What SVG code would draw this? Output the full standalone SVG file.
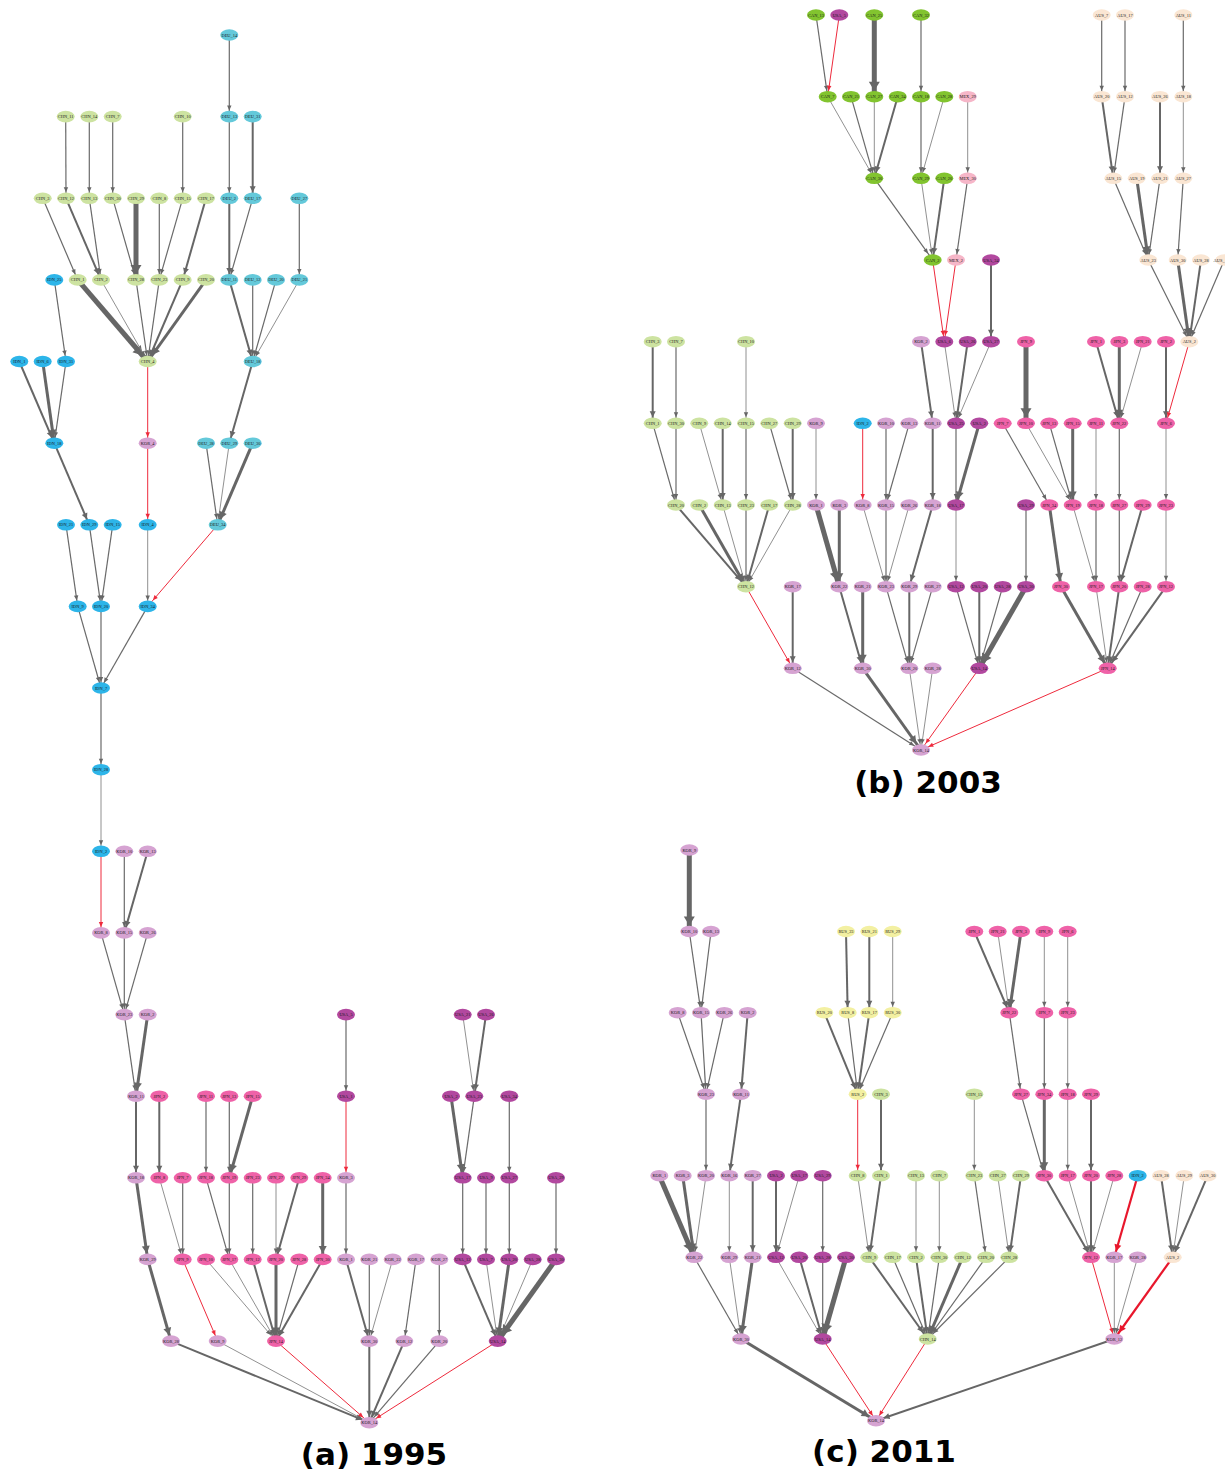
<svg xmlns="http://www.w3.org/2000/svg" width="1225" height="1471" viewBox="0 0 1225 1471">
<style>
.e line{fill:none}
.t{stroke:#858585;stroke-width:0.9;marker-end:url(#g1)}
.n{stroke:#6a6a6a;stroke-width:1.2;marker-end:url(#g1)}
.m{stroke:#666;stroke-width:2;marker-end:url(#g2)}
.k{stroke:#666;stroke-width:3;marker-end:url(#g3)}
.v{stroke:#666;stroke-width:5;marker-end:url(#g4)}
.r{stroke:#ee2a3c;stroke-width:1;marker-end:url(#r1)}
.rk{stroke:#e8172c;stroke-width:2.2;marker-end:url(#r2)}
.d.t,.d.n{marker-end:url(#g1d)}
.d.m{marker-end:url(#g2d)}
.d.k{marker-end:url(#g3d)}
.d.v{marker-end:url(#g4d)}
.d.r{marker-end:url(#r1d)}
.d.rk{marker-end:url(#r2d)}
.nd text{font-family:"Liberation Serif","Times New Roman",serif;font-size:4.4px;text-anchor:middle;dominant-baseline:central;fill:#1a1a1a}
.nd text.edge{text-anchor:end}
.chn ellipse{fill:#cde3a1}
.deu ellipse{fill:#64c9da}
.idn ellipse{fill:#2db5e9}
.kor ellipse{fill:#d6a3d2}
.jpn ellipse{fill:#ef62a8}
.usa ellipse{fill:#b2489f}
.can ellipse{fill:#82c42f}
.mex ellipse{fill:#f6b6c8}
.aus ellipse{fill:#fae6d3}
.rus ellipse{fill:#f3f0a2}
.cap{font-family:"DejaVu Sans",sans-serif;font-weight:bold;font-size:31px;text-anchor:middle;fill:#000}
</style>
<defs>
<marker id="g1" markerUnits="userSpaceOnUse" viewBox="-12 -8 24 16" markerWidth="24" markerHeight="16" refX="6" refY="0" orient="auto"><path d="M-5,-2.2L0,0L-5,2.2z" fill="#666"/></marker>
<marker id="g2" markerUnits="userSpaceOnUse" viewBox="-12 -8 24 16" markerWidth="24" markerHeight="16" refX="6" refY="0" orient="auto"><path d="M-6,-3L0,0L-6,3z" fill="#666"/></marker>
<marker id="g3" markerUnits="userSpaceOnUse" viewBox="-12 -8 24 16" markerWidth="24" markerHeight="16" refX="6" refY="0" orient="auto"><path d="M-7.5,-4L0,0L-7.5,4z" fill="#666"/></marker>
<marker id="g4" markerUnits="userSpaceOnUse" viewBox="-12 -8 24 16" markerWidth="24" markerHeight="16" refX="6" refY="0" orient="auto"><path d="M-9,-5.5L0,0L-9,5.5z" fill="#666"/></marker>
<marker id="r1" markerUnits="userSpaceOnUse" viewBox="-12 -8 24 16" markerWidth="24" markerHeight="16" refX="6" refY="0" orient="auto"><path d="M-5,-2.2L0,0L-5,2.2z" fill="#ee2a3c"/></marker>
<marker id="r2" markerUnits="userSpaceOnUse" viewBox="-12 -8 24 16" markerWidth="24" markerHeight="16" refX="6" refY="0" orient="auto"><path d="M-7,-3.5L0,0L-7,3.5z" fill="#e8172c"/></marker>
<marker id="g1d" markerUnits="userSpaceOnUse" viewBox="-12 -8 24 16" markerWidth="24" markerHeight="16" refX="8" refY="0" orient="auto"><path d="M-5,-2.2L0,0L-5,2.2z" fill="#666"/></marker>
<marker id="g2d" markerUnits="userSpaceOnUse" viewBox="-12 -8 24 16" markerWidth="24" markerHeight="16" refX="8" refY="0" orient="auto"><path d="M-6,-3L0,0L-6,3z" fill="#666"/></marker>
<marker id="g3d" markerUnits="userSpaceOnUse" viewBox="-12 -8 24 16" markerWidth="24" markerHeight="16" refX="8" refY="0" orient="auto"><path d="M-7.5,-4L0,0L-7.5,4z" fill="#666"/></marker>
<marker id="g4d" markerUnits="userSpaceOnUse" viewBox="-12 -8 24 16" markerWidth="24" markerHeight="16" refX="8" refY="0" orient="auto"><path d="M-9,-5.5L0,0L-9,5.5z" fill="#666"/></marker>
<marker id="r1d" markerUnits="userSpaceOnUse" viewBox="-12 -8 24 16" markerWidth="24" markerHeight="16" refX="8" refY="0" orient="auto"><path d="M-5,-2.2L0,0L-5,2.2z" fill="#ee2a3c"/></marker>
<marker id="r2d" markerUnits="userSpaceOnUse" viewBox="-12 -8 24 16" markerWidth="24" markerHeight="16" refX="8" refY="0" orient="auto"><path d="M-7,-3.5L0,0L-7,3.5z" fill="#e8172c"/></marker>
</defs>
<rect width="1225" height="1471" fill="#fff"/>

<!-- ================= PANEL A ================= -->
<g id="a-connectors" class="e">
<line class="n" x1="229.3" y1="35" x2="229.3" y2="116.6"/>
<line class="n" x1="65.7" y1="116.6" x2="66" y2="198.3"/>
<line class="n" x1="89.3" y1="116.6" x2="89.3" y2="198.3"/>
<line class="n" x1="112.7" y1="116.6" x2="112.7" y2="198.3"/>
<line class="n" x1="182.7" y1="116.6" x2="182.7" y2="198.3"/>
<line class="n" x1="229.3" y1="116.6" x2="229.3" y2="198.3"/>
<line class="m" x1="252.7" y1="116.6" x2="252.7" y2="198.3"/>
<line class="n" x1="42.7" y1="198.3" x2="77.7" y2="279.9"/>
<line class="m" x1="66" y1="198.3" x2="101" y2="279.9"/>
<line class="n" x1="89.3" y1="198.3" x2="101" y2="279.9"/>
<line class="n" x1="112.7" y1="198.3" x2="136" y2="279.9"/>
<line class="v" x1="136" y1="198.3" x2="136" y2="279.9"/>
<line class="n" x1="159.3" y1="198.3" x2="159.3" y2="279.9"/>
<line class="n" x1="182.7" y1="198.3" x2="159.3" y2="279.9"/>
<line class="m" x1="206" y1="198.3" x2="182.7" y2="279.9"/>
<line class="m" x1="229.3" y1="198.3" x2="229.3" y2="279.9"/>
<line class="n" x1="252.7" y1="198.3" x2="229.3" y2="279.9"/>
<line class="n" x1="299.3" y1="198.3" x2="299.3" y2="279.9"/>
<line class="n" x1="54.3" y1="279.9" x2="66" y2="361.5"/>
<line class="v d" x1="77.7" y1="279.9" x2="147.7" y2="361.5"/>
<line class="t" x1="101" y1="279.9" x2="147.7" y2="361.5"/>
<line class="n" x1="136" y1="279.9" x2="147.7" y2="361.5"/>
<line class="n" x1="159.3" y1="279.9" x2="147.7" y2="361.5"/>
<line class="m" x1="182.7" y1="279.9" x2="147.7" y2="361.5"/>
<line class="k d" x1="206" y1="279.9" x2="147.7" y2="361.5"/>
<line class="m" x1="229.3" y1="279.9" x2="252.7" y2="361.5"/>
<line class="n" x1="252.7" y1="279.9" x2="252.7" y2="361.5"/>
<line class="n" x1="276" y1="279.9" x2="252.7" y2="361.5"/>
<line class="t" x1="299.3" y1="279.9" x2="252.7" y2="361.5"/>
<line class="m" x1="19.3" y1="361.5" x2="54.3" y2="443.2"/>
<line class="k" x1="42.7" y1="361.5" x2="54.3" y2="443.2"/>
<line class="n" x1="66" y1="361.5" x2="54.3" y2="443.2"/>
<line class="r" x1="147.7" y1="361.5" x2="147.7" y2="443.2"/>
<line class="m" x1="252.7" y1="361.5" x2="229.3" y2="443.2"/>
<line class="m" x1="54.3" y1="443.2" x2="89.3" y2="524.8"/>
<line class="r" x1="147.7" y1="443.2" x2="147.7" y2="524.8"/>
<line class="n" x1="206" y1="443.2" x2="217.7" y2="524.8"/>
<line class="t" x1="229.3" y1="443.2" x2="217.7" y2="524.8"/>
<line class="k" x1="252.7" y1="443.2" x2="217.7" y2="524.8"/>
<line class="n" x1="66" y1="524.8" x2="77.7" y2="606.4"/>
<line class="n" x1="89.3" y1="524.8" x2="101" y2="606.4"/>
<line class="n" x1="112.7" y1="524.8" x2="101" y2="606.4"/>
<line class="t" x1="147.7" y1="524.8" x2="147.7" y2="606.4"/>
<line class="r d" x1="217.7" y1="524.8" x2="147.7" y2="606.4"/>
<line class="n" x1="77.7" y1="606.4" x2="101" y2="688"/>
<line class="n" x1="101" y1="606.4" x2="101" y2="688"/>
<line class="n" x1="147.7" y1="606.4" x2="101" y2="688"/>
<line class="n" x1="101" y1="688" x2="101" y2="769.7"/>
<line class="t" x1="101" y1="769.7" x2="101" y2="851.3"/>
<line class="r" x1="101" y1="851.3" x2="101" y2="932.9"/>
<line class="n" x1="124.3" y1="851.3" x2="124.3" y2="932.9"/>
<line class="m" x1="147.7" y1="851.3" x2="124.3" y2="932.9"/>
<line class="n" x1="101" y1="932.9" x2="124.3" y2="1014.6"/>
<line class="n" x1="124.3" y1="932.9" x2="124.3" y2="1014.6"/>
<line class="n" x1="147.7" y1="932.9" x2="124.3" y2="1014.6"/>
<line class="n" x1="124.3" y1="1014.6" x2="136" y2="1096.2"/>
<line class="k" x1="147.7" y1="1014.6" x2="136" y2="1096.2"/>
<line class="n" x1="346" y1="1014.6" x2="346" y2="1096.2"/>
<line class="t" x1="462.7" y1="1014.6" x2="474.3" y2="1096.2"/>
<line class="m" x1="486" y1="1014.6" x2="474.3" y2="1096.2"/>
<line class="m" x1="136" y1="1096.2" x2="136" y2="1177.8"/>
<line class="m" x1="159.3" y1="1096.2" x2="159.3" y2="1177.8"/>
<line class="n" x1="206" y1="1096.2" x2="206" y2="1177.8"/>
<line class="n" x1="229.3" y1="1096.2" x2="229.3" y2="1177.8"/>
<line class="k" x1="252.7" y1="1096.2" x2="229.3" y2="1177.8"/>
<line class="r" x1="346" y1="1096.2" x2="346" y2="1177.8"/>
<line class="k" x1="451" y1="1096.2" x2="462.7" y2="1177.8"/>
<line class="n" x1="474.3" y1="1096.2" x2="462.7" y2="1177.8"/>
<line class="n" x1="509.3" y1="1096.2" x2="509.3" y2="1177.8"/>
<line class="k" x1="136" y1="1177.8" x2="147.7" y2="1259.4"/>
<line class="t" x1="159.3" y1="1177.8" x2="182.7" y2="1259.4"/>
<line class="n" x1="182.7" y1="1177.8" x2="182.7" y2="1259.4"/>
<line class="n" x1="206" y1="1177.8" x2="229.3" y2="1259.4"/>
<line class="n" x1="229.3" y1="1177.8" x2="229.3" y2="1259.4"/>
<line class="n" x1="252.7" y1="1177.8" x2="252.7" y2="1259.4"/>
<line class="t" x1="276" y1="1177.8" x2="276" y2="1259.4"/>
<line class="m" x1="299.3" y1="1177.8" x2="276" y2="1259.4"/>
<line class="k" x1="322.7" y1="1177.8" x2="322.7" y2="1259.4"/>
<line class="n" x1="346" y1="1177.8" x2="346" y2="1259.4"/>
<line class="n" x1="462.7" y1="1177.8" x2="462.7" y2="1259.4"/>
<line class="n" x1="486" y1="1177.8" x2="486" y2="1259.4"/>
<line class="n" x1="509.3" y1="1177.8" x2="509.3" y2="1259.4"/>
<line class="n" x1="556" y1="1177.8" x2="556" y2="1259.4"/>
<line class="k" x1="147.7" y1="1259.4" x2="171" y2="1341.1"/>
<line class="r" x1="182.7" y1="1259.4" x2="217.7" y2="1341.1"/>
<line class="t d" x1="206" y1="1259.4" x2="276" y2="1341.1"/>
<line class="t" x1="229.3" y1="1259.4" x2="276" y2="1341.1"/>
<line class="m" x1="252.7" y1="1259.4" x2="276" y2="1341.1"/>
<line class="k" x1="276" y1="1259.4" x2="276" y2="1341.1"/>
<line class="n" x1="299.3" y1="1259.4" x2="276" y2="1341.1"/>
<line class="m" x1="322.7" y1="1259.4" x2="276" y2="1341.1"/>
<line class="m" x1="346" y1="1259.4" x2="369.3" y2="1341.1"/>
<line class="n" x1="369.3" y1="1259.4" x2="369.3" y2="1341.1"/>
<line class="t" x1="392.7" y1="1259.4" x2="369.3" y2="1341.1"/>
<line class="n" x1="416" y1="1259.4" x2="404.3" y2="1341.1"/>
<line class="n" x1="439.3" y1="1259.4" x2="439.3" y2="1341.1"/>
<line class="m" x1="462.7" y1="1259.4" x2="497.7" y2="1341.1"/>
<line class="t" x1="486" y1="1259.4" x2="497.7" y2="1341.1"/>
<line class="k" x1="509.3" y1="1259.4" x2="497.7" y2="1341.1"/>
<line class="t" x1="532.7" y1="1259.4" x2="497.7" y2="1341.1"/>
<line class="v d" x1="556" y1="1259.4" x2="497.7" y2="1341.1"/>
<line class="m d" x1="171" y1="1341.1" x2="369.3" y2="1422.7"/>
<line class="t d" x1="217.7" y1="1341.1" x2="369.3" y2="1422.7"/>
<line class="r d" x1="276" y1="1341.1" x2="369.3" y2="1422.7"/>
<line class="m" x1="369.3" y1="1341.1" x2="369.3" y2="1422.7"/>
<line class="m" x1="404.3" y1="1341.1" x2="369.3" y2="1422.7"/>
<line class="n d" x1="439.3" y1="1341.1" x2="369.3" y2="1422.7"/>
<line class="r d" x1="497.7" y1="1341.1" x2="369.3" y2="1422.7"/>
</g>
<g id="a-nodes" class="nd">
<g id="a-DEU_14" class="deu"><ellipse cx="229.3" cy="35" rx="9" ry="5.8"/><text x="229.3" y="35">DEU_14</text></g>
<g id="a-CHN_11" class="chn"><ellipse cx="65.7" cy="116.6" rx="9" ry="5.8"/><text x="65.7" y="116.6">CHN_11</text></g>
<g id="a-CHN_14" class="chn"><ellipse cx="89.3" cy="116.6" rx="9" ry="5.8"/><text x="89.3" y="116.6">CHN_14</text></g>
<g id="a-CHN_7" class="chn"><ellipse cx="112.7" cy="116.6" rx="9" ry="5.8"/><text x="112.7" y="116.6">CHN_7</text></g>
<g id="a-CHN_10" class="chn"><ellipse cx="182.7" cy="116.6" rx="9" ry="5.8"/><text x="182.7" y="116.6">CHN_10</text></g>
<g id="a-DEU_13" class="deu"><ellipse cx="229.3" cy="116.6" rx="9" ry="5.8"/><text x="229.3" y="116.6">DEU_13</text></g>
<g id="a-DEU_31" class="deu"><ellipse cx="252.7" cy="116.6" rx="9" ry="5.8"/><text x="252.7" y="116.6">DEU_31</text></g>
<g id="a-CHN_3" class="chn"><ellipse cx="42.7" cy="198.3" rx="9" ry="5.8"/><text x="42.7" y="198.3">CHN_3</text></g>
<g id="a-CHN_12" class="chn"><ellipse cx="66" cy="198.3" rx="9" ry="5.8"/><text x="66" y="198.3">CHN_12</text></g>
<g id="a-CHN_13" class="chn"><ellipse cx="89.3" cy="198.3" rx="9" ry="5.8"/><text x="89.3" y="198.3">CHN_13</text></g>
<g id="a-CHN_30" class="chn"><ellipse cx="112.7" cy="198.3" rx="9" ry="5.8"/><text x="112.7" y="198.3">CHN_30</text></g>
<g id="a-CHN_29" class="chn"><ellipse cx="136" cy="198.3" rx="9" ry="5.8"/><text x="136" y="198.3">CHN_29</text></g>
<g id="a-CHN_8" class="chn"><ellipse cx="159.3" cy="198.3" rx="9" ry="5.8"/><text x="159.3" y="198.3">CHN_8</text></g>
<g id="a-CHN_15" class="chn"><ellipse cx="182.7" cy="198.3" rx="9" ry="5.8"/><text x="182.7" y="198.3">CHN_15</text></g>
<g id="a-CHN_17" class="chn"><ellipse cx="206" cy="198.3" rx="9" ry="5.8"/><text x="206" y="198.3">CHN_17</text></g>
<g id="a-DEU_2" class="deu"><ellipse cx="229.3" cy="198.3" rx="9" ry="5.8"/><text x="229.3" y="198.3">DEU_2</text></g>
<g id="a-DEU_17" class="deu"><ellipse cx="252.7" cy="198.3" rx="9" ry="5.8"/><text x="252.7" y="198.3">DEU_17</text></g>
<g id="a-DEU_27" class="deu"><ellipse cx="299.3" cy="198.3" rx="9" ry="5.8"/><text x="299.3" y="198.3">DEU_27</text></g>
<g id="a-IDN_25" class="idn"><ellipse cx="54.3" cy="279.9" rx="9" ry="5.8"/><text x="54.3" y="279.9">IDN_25</text></g>
<g id="a-CHN_1" class="chn"><ellipse cx="77.7" cy="279.9" rx="9" ry="5.8"/><text x="77.7" y="279.9">CHN_1</text></g>
<g id="a-CHN_2" class="chn"><ellipse cx="101" cy="279.9" rx="9" ry="5.8"/><text x="101" y="279.9">CHN_2</text></g>
<g id="a-CHN_28" class="chn"><ellipse cx="136" cy="279.9" rx="9" ry="5.8"/><text x="136" y="279.9">CHN_28</text></g>
<g id="a-CHN_23" class="chn"><ellipse cx="159.3" cy="279.9" rx="9" ry="5.8"/><text x="159.3" y="279.9">CHN_23</text></g>
<g id="a-CHN_9" class="chn"><ellipse cx="182.7" cy="279.9" rx="9" ry="5.8"/><text x="182.7" y="279.9">CHN_9</text></g>
<g id="a-CHN_20" class="chn"><ellipse cx="206" cy="279.9" rx="9" ry="5.8"/><text x="206" y="279.9">CHN_20</text></g>
<g id="a-DEU_11" class="deu"><ellipse cx="229.3" cy="279.9" rx="9" ry="5.8"/><text x="229.3" y="279.9">DEU_11</text></g>
<g id="a-DEU_12" class="deu"><ellipse cx="252.7" cy="279.9" rx="9" ry="5.8"/><text x="252.7" y="279.9">DEU_12</text></g>
<g id="a-DEU_20" class="deu"><ellipse cx="276" cy="279.9" rx="9" ry="5.8"/><text x="276" y="279.9">DEU_20</text></g>
<g id="a-DEU_21" class="deu"><ellipse cx="299.3" cy="279.9" rx="9" ry="5.8"/><text x="299.3" y="279.9">DEU_21</text></g>
<g id="a-IDN_1" class="idn"><ellipse cx="19.3" cy="361.5" rx="9" ry="5.8"/><text x="19.3" y="361.5">IDN_1</text></g>
<g id="a-IDN_6" class="idn"><ellipse cx="42.7" cy="361.5" rx="9" ry="5.8"/><text x="42.7" y="361.5">IDN_6</text></g>
<g id="a-IDN_31" class="idn"><ellipse cx="66" cy="361.5" rx="9" ry="5.8"/><text x="66" y="361.5">IDN_31</text></g>
<g id="a-CHN_4" class="chn"><ellipse cx="147.7" cy="361.5" rx="9" ry="5.8"/><text x="147.7" y="361.5">CHN_4</text></g>
<g id="a-DEU_18" class="deu"><ellipse cx="252.7" cy="361.5" rx="9" ry="5.8"/><text x="252.7" y="361.5">DEU_18</text></g>
<g id="a-IDN_18" class="idn"><ellipse cx="54.3" cy="443.2" rx="9" ry="5.8"/><text x="54.3" y="443.2">IDN_18</text></g>
<g id="a-KOR_4" class="kor"><ellipse cx="147.7" cy="443.2" rx="9" ry="5.8"/><text x="147.7" y="443.2">KOR_4</text></g>
<g id="a-DEU_28" class="deu"><ellipse cx="206" cy="443.2" rx="9" ry="5.8"/><text x="206" y="443.2">DEU_28</text></g>
<g id="a-DEU_29" class="deu"><ellipse cx="229.3" cy="443.2" rx="9" ry="5.8"/><text x="229.3" y="443.2">DEU_29</text></g>
<g id="a-DEU_30" class="deu"><ellipse cx="252.7" cy="443.2" rx="9" ry="5.8"/><text x="252.7" y="443.2">DEU_30</text></g>
<g id="a-IDN_21" class="idn"><ellipse cx="66" cy="524.8" rx="9" ry="5.8"/><text x="66" y="524.8">IDN_21</text></g>
<g id="a-IDN_29" class="idn"><ellipse cx="89.3" cy="524.8" rx="9" ry="5.8"/><text x="89.3" y="524.8">IDN_29</text></g>
<g id="a-IDN_15" class="idn"><ellipse cx="112.7" cy="524.8" rx="9" ry="5.8"/><text x="112.7" y="524.8">IDN_15</text></g>
<g id="a-IDN_4" class="idn"><ellipse cx="147.7" cy="524.8" rx="9" ry="5.8"/><text x="147.7" y="524.8">IDN_4</text></g>
<g id="a-DEU_34" class="deu"><ellipse cx="217.7" cy="524.8" rx="9" ry="5.8"/><text x="217.7" y="524.8">DEU_34</text></g>
<g id="a-IDN_9" class="idn"><ellipse cx="77.7" cy="606.4" rx="9" ry="5.8"/><text x="77.7" y="606.4">IDN_9</text></g>
<g id="a-IDN_20" class="idn"><ellipse cx="101" cy="606.4" rx="9" ry="5.8"/><text x="101" y="606.4">IDN_20</text></g>
<g id="a-IDN_34" class="idn"><ellipse cx="147.7" cy="606.4" rx="9" ry="5.8"/><text x="147.7" y="606.4">IDN_34</text></g>
<g id="a-IDN_7" class="idn"><ellipse cx="101" cy="688" rx="9" ry="5.8"/><text x="101" y="688">IDN_7</text></g>
<g id="a-IDN_28" class="idn"><ellipse cx="101" cy="769.7" rx="9" ry="5.8"/><text x="101" y="769.7">IDN_28</text></g>
<g id="a-IDN_2" class="idn"><ellipse cx="101" cy="851.3" rx="9" ry="5.8"/><text x="101" y="851.3">IDN_2</text></g>
<g id="a-KOR_10" class="kor"><ellipse cx="124.3" cy="851.3" rx="9" ry="5.8"/><text x="124.3" y="851.3">KOR_10</text></g>
<g id="a-KOR_13" class="kor"><ellipse cx="147.7" cy="851.3" rx="9" ry="5.8"/><text x="147.7" y="851.3">KOR_13</text></g>
<g id="a-KOR_8" class="kor"><ellipse cx="101" cy="932.9" rx="9" ry="5.8"/><text x="101" y="932.9">KOR_8</text></g>
<g id="a-KOR_15" class="kor"><ellipse cx="124.3" cy="932.9" rx="9" ry="5.8"/><text x="124.3" y="932.9">KOR_15</text></g>
<g id="a-KOR_26" class="kor"><ellipse cx="147.7" cy="932.9" rx="9" ry="5.8"/><text x="147.7" y="932.9">KOR_26</text></g>
<g id="a-KOR_23" class="kor"><ellipse cx="124.3" cy="1014.6" rx="9" ry="5.8"/><text x="124.3" y="1014.6">KOR_23</text></g>
<g id="a-KOR_2" class="kor"><ellipse cx="147.7" cy="1014.6" rx="9" ry="5.8"/><text x="147.7" y="1014.6">KOR_2</text></g>
<g id="a-USA_5" class="usa"><ellipse cx="346" cy="1014.6" rx="9" ry="5.8"/><text x="346" y="1014.6">USA_5</text></g>
<g id="a-USA_21" class="usa"><ellipse cx="462.7" cy="1014.6" rx="9" ry="5.8"/><text x="462.7" y="1014.6">USA_21</text></g>
<g id="a-USA_26" class="usa"><ellipse cx="486" cy="1014.6" rx="9" ry="5.8"/><text x="486" y="1014.6">USA_26</text></g>
<g id="a-KOR_11" class="kor"><ellipse cx="136" cy="1096.2" rx="9" ry="5.8"/><text x="136" y="1096.2">KOR_11</text></g>
<g id="a-JPN_2" class="jpn"><ellipse cx="159.3" cy="1096.2" rx="9" ry="5.8"/><text x="159.3" y="1096.2">JPN_2</text></g>
<g id="a-JPN_11" class="jpn"><ellipse cx="206" cy="1096.2" rx="9" ry="5.8"/><text x="206" y="1096.2">JPN_11</text></g>
<g id="a-JPN_13" class="jpn"><ellipse cx="229.3" cy="1096.2" rx="9" ry="5.8"/><text x="229.3" y="1096.2">JPN_13</text></g>
<g id="a-JPN_15" class="jpn"><ellipse cx="252.7" cy="1096.2" rx="9" ry="5.8"/><text x="252.7" y="1096.2">JPN_15</text></g>
<g id="a-USA_1" class="usa"><ellipse cx="346" cy="1096.2" rx="9" ry="5.8"/><text x="346" y="1096.2">USA_1</text></g>
<g id="a-USA_2" class="usa"><ellipse cx="451" cy="1096.2" rx="9" ry="5.8"/><text x="451" y="1096.2">USA_2</text></g>
<g id="a-USA_23" class="usa"><ellipse cx="474.3" cy="1096.2" rx="9" ry="5.8"/><text x="474.3" y="1096.2">USA_23</text></g>
<g id="a-USA_34" class="usa"><ellipse cx="509.3" cy="1096.2" rx="9" ry="5.8"/><text x="509.3" y="1096.2">USA_34</text></g>
<g id="a-KOR_18" class="kor"><ellipse cx="136" cy="1177.8" rx="9" ry="5.8"/><text x="136" y="1177.8">KOR_18</text></g>
<g id="a-JPN_8" class="jpn"><ellipse cx="159.3" cy="1177.8" rx="9" ry="5.8"/><text x="159.3" y="1177.8">JPN_8</text></g>
<g id="a-JPN_7" class="jpn"><ellipse cx="182.7" cy="1177.8" rx="9" ry="5.8"/><text x="182.7" y="1177.8">JPN_7</text></g>
<g id="a-JPN_18" class="jpn"><ellipse cx="206" cy="1177.8" rx="9" ry="5.8"/><text x="206" y="1177.8">JPN_18</text></g>
<g id="a-JPN_19" class="jpn"><ellipse cx="229.3" cy="1177.8" rx="9" ry="5.8"/><text x="229.3" y="1177.8">JPN_19</text></g>
<g id="a-JPN_23" class="jpn"><ellipse cx="252.7" cy="1177.8" rx="9" ry="5.8"/><text x="252.7" y="1177.8">JPN_23</text></g>
<g id="a-JPN_27" class="jpn"><ellipse cx="276" cy="1177.8" rx="9" ry="5.8"/><text x="276" y="1177.8">JPN_27</text></g>
<g id="a-JPN_29" class="jpn"><ellipse cx="299.3" cy="1177.8" rx="9" ry="5.8"/><text x="299.3" y="1177.8">JPN_29</text></g>
<g id="a-JPN_34" class="jpn"><ellipse cx="322.7" cy="1177.8" rx="9" ry="5.8"/><text x="322.7" y="1177.8">JPN_34</text></g>
<g id="a-KOR_3" class="kor"><ellipse cx="346" cy="1177.8" rx="9" ry="5.8"/><text x="346" y="1177.8">KOR_3</text></g>
<g id="a-USA_17" class="usa"><ellipse cx="462.7" cy="1177.8" rx="9" ry="5.8"/><text x="462.7" y="1177.8">USA_17</text></g>
<g id="a-USA_9" class="usa"><ellipse cx="486" cy="1177.8" rx="9" ry="5.8"/><text x="486" y="1177.8">USA_9</text></g>
<g id="a-USA_27" class="usa"><ellipse cx="509.3" cy="1177.8" rx="9" ry="5.8"/><text x="509.3" y="1177.8">USA_27</text></g>
<g id="a-USA_29" class="usa"><ellipse cx="556" cy="1177.8" rx="9" ry="5.8"/><text x="556" y="1177.8">USA_29</text></g>
<g id="a-KOR_29" class="kor"><ellipse cx="147.7" cy="1259.4" rx="9" ry="5.8"/><text x="147.7" y="1259.4">KOR_29</text></g>
<g id="a-JPN_9" class="jpn"><ellipse cx="182.7" cy="1259.4" rx="9" ry="5.8"/><text x="182.7" y="1259.4">JPN_9</text></g>
<g id="a-JPN_10" class="jpn"><ellipse cx="206" cy="1259.4" rx="9" ry="5.8"/><text x="206" y="1259.4">JPN_10</text></g>
<g id="a-JPN_17" class="jpn"><ellipse cx="229.3" cy="1259.4" rx="9" ry="5.8"/><text x="229.3" y="1259.4">JPN_17</text></g>
<g id="a-JPN_12" class="jpn"><ellipse cx="252.7" cy="1259.4" rx="9" ry="5.8"/><text x="252.7" y="1259.4">JPN_12</text></g>
<g id="a-JPN_20" class="jpn"><ellipse cx="276" cy="1259.4" rx="9" ry="5.8"/><text x="276" y="1259.4">JPN_20</text></g>
<g id="a-JPN_28" class="jpn"><ellipse cx="299.3" cy="1259.4" rx="9" ry="5.8"/><text x="299.3" y="1259.4">JPN_28</text></g>
<g id="a-JPN_30" class="jpn"><ellipse cx="322.7" cy="1259.4" rx="9" ry="5.8"/><text x="322.7" y="1259.4">JPN_30</text></g>
<g id="a-KOR_1" class="kor"><ellipse cx="346" cy="1259.4" rx="9" ry="5.8"/><text x="346" y="1259.4">KOR_1</text></g>
<g id="a-KOR_21" class="kor"><ellipse cx="369.3" cy="1259.4" rx="9" ry="5.8"/><text x="369.3" y="1259.4">KOR_21</text></g>
<g id="a-KOR_22" class="kor"><ellipse cx="392.7" cy="1259.4" rx="9" ry="5.8"/><text x="392.7" y="1259.4">KOR_22</text></g>
<g id="a-KOR_17" class="kor"><ellipse cx="416" cy="1259.4" rx="9" ry="5.8"/><text x="416" y="1259.4">KOR_17</text></g>
<g id="a-KOR_27" class="kor"><ellipse cx="439.3" cy="1259.4" rx="9" ry="5.8"/><text x="439.3" y="1259.4">KOR_27</text></g>
<g id="a-USA_12" class="usa"><ellipse cx="462.7" cy="1259.4" rx="9" ry="5.8"/><text x="462.7" y="1259.4">USA_12</text></g>
<g id="a-USA_7" class="usa"><ellipse cx="486" cy="1259.4" rx="9" ry="5.8"/><text x="486" y="1259.4">USA_7</text></g>
<g id="a-USA_20" class="usa"><ellipse cx="509.3" cy="1259.4" rx="9" ry="5.8"/><text x="509.3" y="1259.4">USA_20</text></g>
<g id="a-USA_28" class="usa"><ellipse cx="532.7" cy="1259.4" rx="9" ry="5.8"/><text x="532.7" y="1259.4">USA_28</text></g>
<g id="a-USA_30" class="usa"><ellipse cx="556" cy="1259.4" rx="9" ry="5.8"/><text x="556" y="1259.4">USA_30</text></g>
<g id="a-KOR_28" class="kor"><ellipse cx="171" cy="1341.1" rx="9" ry="5.8"/><text x="171" y="1341.1">KOR_28</text></g>
<g id="a-KOR_9" class="kor"><ellipse cx="217.7" cy="1341.1" rx="9" ry="5.8"/><text x="217.7" y="1341.1">KOR_9</text></g>
<g id="a-JPN_14" class="jpn"><ellipse cx="276" cy="1341.1" rx="9" ry="5.8"/><text x="276" y="1341.1">JPN_14</text></g>
<g id="a-KOR_30" class="kor"><ellipse cx="369.3" cy="1341.1" rx="9" ry="5.8"/><text x="369.3" y="1341.1">KOR_30</text></g>
<g id="a-KOR_12" class="kor"><ellipse cx="404.3" cy="1341.1" rx="9" ry="5.8"/><text x="404.3" y="1341.1">KOR_12</text></g>
<g id="a-KOR_20" class="kor"><ellipse cx="439.3" cy="1341.1" rx="9" ry="5.8"/><text x="439.3" y="1341.1">KOR_20</text></g>
<g id="a-USA_14" class="usa"><ellipse cx="497.7" cy="1341.1" rx="9" ry="5.8"/><text x="497.7" y="1341.1">USA_14</text></g>
<g id="a-KOR_14" class="kor"><ellipse cx="369.3" cy="1422.7" rx="9" ry="5.8"/><text x="369.3" y="1422.7">KOR_14</text></g>
</g>

<!-- ================= PANEL B ================= -->
<g id="b-connectors" class="e">
<line class="n" x1="816" y1="15" x2="827.7" y2="96.7"/>
<line class="r" x1="839.3" y1="15" x2="827.7" y2="96.7"/>
<line class="v" x1="874.3" y1="15" x2="874.3" y2="96.7"/>
<line class="n" x1="921" y1="15" x2="921" y2="96.7"/>
<line class="n" x1="1101.7" y1="15" x2="1101.7" y2="96.7"/>
<line class="n" x1="1125" y1="15" x2="1125" y2="96.7"/>
<line class="n" x1="1183.3" y1="15" x2="1183.3" y2="96.7"/>
<line class="t" x1="827.7" y1="96.7" x2="874.3" y2="178.3"/>
<line class="n" x1="851" y1="96.7" x2="874.3" y2="178.3"/>
<line class="t" x1="874.3" y1="96.7" x2="874.3" y2="178.3"/>
<line class="m" x1="897.7" y1="96.7" x2="874.3" y2="178.3"/>
<line class="n" x1="921" y1="96.7" x2="921" y2="178.3"/>
<line class="t" x1="944.3" y1="96.7" x2="921" y2="178.3"/>
<line class="t" x1="967.7" y1="96.7" x2="967.7" y2="178.3"/>
<line class="m" x1="1101.7" y1="96.7" x2="1113.3" y2="178.3"/>
<line class="n" x1="1125" y1="96.7" x2="1113.3" y2="178.3"/>
<line class="m" x1="1160" y1="96.7" x2="1160" y2="178.3"/>
<line class="t" x1="1183.3" y1="96.7" x2="1183.3" y2="178.3"/>
<line class="n d" x1="874.3" y1="178.3" x2="932.7" y2="260"/>
<line class="t" x1="921" y1="178.3" x2="932.7" y2="260"/>
<line class="m" x1="944.3" y1="178.3" x2="932.7" y2="260"/>
<line class="n" x1="967.7" y1="178.3" x2="956" y2="260"/>
<line class="n" x1="1113.3" y1="178.3" x2="1148.3" y2="260"/>
<line class="k" x1="1136.7" y1="178.3" x2="1148.3" y2="260"/>
<line class="n" x1="1160" y1="178.3" x2="1148.3" y2="260"/>
<line class="n" x1="1183.3" y1="178.3" x2="1177.7" y2="260"/>
<line class="r" x1="932.7" y1="260" x2="944.3" y2="341.7"/>
<line class="r" x1="956" y1="260" x2="944.3" y2="341.7"/>
<line class="m" x1="991" y1="260" x2="991" y2="341.7"/>
<line class="n" x1="1148.3" y1="260" x2="1189.3" y2="341.7"/>
<line class="k" x1="1177.7" y1="260" x2="1189.3" y2="341.7"/>
<line class="m" x1="1201" y1="260" x2="1189.3" y2="341.7"/>
<line class="n" x1="1224.3" y1="260" x2="1189.3" y2="341.7"/>
<line class="m" x1="652.7" y1="341.7" x2="652.7" y2="423.3"/>
<line class="n" x1="676" y1="341.7" x2="676" y2="423.3"/>
<line class="t" x1="746" y1="341.7" x2="746" y2="423.3"/>
<line class="m" x1="921" y1="341.7" x2="932.7" y2="423.3"/>
<line class="t" x1="944.3" y1="341.7" x2="956" y2="423.3"/>
<line class="m" x1="967.7" y1="341.7" x2="956" y2="423.3"/>
<line class="t" x1="991" y1="341.7" x2="956" y2="423.3"/>
<line class="v" x1="1026" y1="341.7" x2="1026" y2="423.3"/>
<line class="m" x1="1096" y1="341.7" x2="1119.3" y2="423.3"/>
<line class="k" x1="1119.3" y1="341.7" x2="1119.3" y2="423.3"/>
<line class="t" x1="1142.7" y1="341.7" x2="1119.3" y2="423.3"/>
<line class="m" x1="1166" y1="341.7" x2="1166" y2="423.3"/>
<line class="r" x1="1189.3" y1="341.7" x2="1166" y2="423.3"/>
<line class="n" x1="652.7" y1="423.3" x2="676" y2="505"/>
<line class="n" x1="676" y1="423.3" x2="676" y2="505"/>
<line class="t" x1="699.3" y1="423.3" x2="722.7" y2="505"/>
<line class="m" x1="722.7" y1="423.3" x2="722.7" y2="505"/>
<line class="n" x1="746" y1="423.3" x2="746" y2="505"/>
<line class="n" x1="769.3" y1="423.3" x2="792.7" y2="505"/>
<line class="m" x1="792.7" y1="423.3" x2="792.7" y2="505"/>
<line class="t" x1="816" y1="423.3" x2="816" y2="505"/>
<line class="r" x1="862.7" y1="423.3" x2="862.7" y2="505"/>
<line class="n" x1="886" y1="423.3" x2="886" y2="505"/>
<line class="n" x1="909.3" y1="423.3" x2="886" y2="505"/>
<line class="m" x1="932.7" y1="423.3" x2="932.7" y2="505"/>
<line class="n" x1="956" y1="423.3" x2="956" y2="505"/>
<line class="k" x1="979.3" y1="423.3" x2="956" y2="505"/>
<line class="n" x1="1002.7" y1="423.3" x2="1049.3" y2="505"/>
<line class="t" x1="1026" y1="423.3" x2="1072.7" y2="505"/>
<line class="n" x1="1049.3" y1="423.3" x2="1072.7" y2="505"/>
<line class="k" x1="1072.7" y1="423.3" x2="1072.7" y2="505"/>
<line class="t" x1="1096" y1="423.3" x2="1096" y2="505"/>
<line class="n" x1="1119.3" y1="423.3" x2="1119.3" y2="505"/>
<line class="t" x1="1166" y1="423.3" x2="1166" y2="505"/>
<line class="m d" x1="676" y1="505" x2="746" y2="586.7"/>
<line class="k" x1="699.3" y1="505" x2="746" y2="586.7"/>
<line class="t" x1="722.7" y1="505" x2="746" y2="586.7"/>
<line class="n" x1="746" y1="505" x2="746" y2="586.7"/>
<line class="m" x1="769.3" y1="505" x2="746" y2="586.7"/>
<line class="t" x1="792.7" y1="505" x2="746" y2="586.7"/>
<line class="v" x1="816" y1="505" x2="839.3" y2="586.7"/>
<line class="k" x1="839.3" y1="505" x2="839.3" y2="586.7"/>
<line class="t" x1="862.7" y1="505" x2="886" y2="586.7"/>
<line class="n" x1="886" y1="505" x2="886" y2="586.7"/>
<line class="t" x1="909.3" y1="505" x2="886" y2="586.7"/>
<line class="m" x1="932.7" y1="505" x2="909.3" y2="586.7"/>
<line class="t" x1="956" y1="505" x2="956" y2="586.7"/>
<line class="n" x1="1026" y1="505" x2="1026" y2="586.7"/>
<line class="k" x1="1049.3" y1="505" x2="1061" y2="586.7"/>
<line class="t" x1="1072.7" y1="505" x2="1096" y2="586.7"/>
<line class="n" x1="1096" y1="505" x2="1096" y2="586.7"/>
<line class="n" x1="1119.3" y1="505" x2="1119.3" y2="586.7"/>
<line class="m" x1="1142.7" y1="505" x2="1119.3" y2="586.7"/>
<line class="t" x1="1166" y1="505" x2="1166" y2="586.7"/>
<line class="r" x1="746" y1="586.7" x2="792.7" y2="668.3"/>
<line class="m" x1="792.7" y1="586.7" x2="792.7" y2="668.3"/>
<line class="m" x1="839.3" y1="586.7" x2="862.7" y2="668.3"/>
<line class="k" x1="862.7" y1="586.7" x2="862.7" y2="668.3"/>
<line class="n" x1="886" y1="586.7" x2="909.3" y2="668.3"/>
<line class="m" x1="909.3" y1="586.7" x2="909.3" y2="668.3"/>
<line class="n" x1="932.7" y1="586.7" x2="909.3" y2="668.3"/>
<line class="n" x1="956" y1="586.7" x2="979.3" y2="668.3"/>
<line class="m" x1="979.3" y1="586.7" x2="979.3" y2="668.3"/>
<line class="n" x1="1002.7" y1="586.7" x2="979.3" y2="668.3"/>
<line class="v" x1="1026" y1="586.7" x2="979.3" y2="668.3"/>
<line class="k" x1="1061" y1="586.7" x2="1107.7" y2="668.3"/>
<line class="t" x1="1096" y1="586.7" x2="1107.7" y2="668.3"/>
<line class="m" x1="1119.3" y1="586.7" x2="1107.7" y2="668.3"/>
<line class="n" x1="1142.7" y1="586.7" x2="1107.7" y2="668.3"/>
<line class="m d" x1="1166" y1="586.7" x2="1107.7" y2="668.3"/>
<line class="n d" x1="792.7" y1="668.3" x2="921" y2="750"/>
<line class="k d" x1="862.7" y1="668.3" x2="921" y2="750"/>
<line class="t" x1="909.3" y1="668.3" x2="921" y2="750"/>
<line class="t" x1="932.7" y1="668.3" x2="921" y2="750"/>
<line class="r d" x1="979.3" y1="668.3" x2="921" y2="750"/>
<line class="r d" x1="1107.7" y1="668.3" x2="921" y2="750"/>
</g>
<g id="b-nodes" class="nd">
<g id="b-CAN_13" class="can"><ellipse cx="816" cy="15" rx="9" ry="5.8"/><text x="816" y="15">CAN_13</text></g>
<g id="b-USA_5" class="usa"><ellipse cx="839.3" cy="15" rx="9" ry="5.8"/><text x="839.3" y="15">USA_5</text></g>
<g id="b-CAN_25" class="can"><ellipse cx="874.3" cy="15" rx="9" ry="5.8"/><text x="874.3" y="15">CAN_25</text></g>
<g id="b-CAN_32" class="can"><ellipse cx="921" cy="15" rx="9" ry="5.8"/><text x="921" y="15">CAN_32</text></g>
<g id="b-AUS_7" class="aus"><ellipse cx="1101.7" cy="15" rx="9" ry="5.8"/><text x="1101.7" y="15">AUS_7</text></g>
<g id="b-AUS_17" class="aus"><ellipse cx="1125" cy="15" rx="9" ry="5.8"/><text x="1125" y="15">AUS_17</text></g>
<g id="b-AUS_11" class="aus"><ellipse cx="1183.3" cy="15" rx="9" ry="5.8"/><text x="1183.3" y="15">AUS_11</text></g>
<g id="b-CAN_7" class="can"><ellipse cx="827.7" cy="96.7" rx="9" ry="5.8"/><text x="827.7" y="96.7">CAN_7</text></g>
<g id="b-CAN_21" class="can"><ellipse cx="851" cy="96.7" rx="9" ry="5.8"/><text x="851" y="96.7">CAN_21</text></g>
<g id="b-CAN_27" class="can"><ellipse cx="874.3" cy="96.7" rx="9" ry="5.8"/><text x="874.3" y="96.7">CAN_27</text></g>
<g id="b-CAN_34" class="can"><ellipse cx="897.7" cy="96.7" rx="9" ry="5.8"/><text x="897.7" y="96.7">CAN_34</text></g>
<g id="b-CAN_18" class="can"><ellipse cx="921" cy="96.7" rx="9" ry="5.8"/><text x="921" y="96.7">CAN_18</text></g>
<g id="b-CAN_28" class="can"><ellipse cx="944.3" cy="96.7" rx="9" ry="5.8"/><text x="944.3" y="96.7">CAN_28</text></g>
<g id="b-MEX_29" class="mex"><ellipse cx="967.7" cy="96.7" rx="9" ry="5.8"/><text x="967.7" y="96.7">MEX_29</text></g>
<g id="b-AUS_20" class="aus"><ellipse cx="1101.7" cy="96.7" rx="9" ry="5.8"/><text x="1101.7" y="96.7">AUS_20</text></g>
<g id="b-AUS_12" class="aus"><ellipse cx="1125" cy="96.7" rx="9" ry="5.8"/><text x="1125" y="96.7">AUS_12</text></g>
<g id="b-AUS_26" class="aus"><ellipse cx="1160" cy="96.7" rx="9" ry="5.8"/><text x="1160" y="96.7">AUS_26</text></g>
<g id="b-AUS_18" class="aus"><ellipse cx="1183.3" cy="96.7" rx="9" ry="5.8"/><text x="1183.3" y="96.7">AUS_18</text></g>
<g id="b-CAN_30" class="can"><ellipse cx="874.3" cy="178.3" rx="9" ry="5.8"/><text x="874.3" y="178.3">CAN_30</text></g>
<g id="b-CAN_29" class="can"><ellipse cx="921" cy="178.3" rx="9" ry="5.8"/><text x="921" y="178.3">CAN_29</text></g>
<g id="b-CAN_20" class="can"><ellipse cx="944.3" cy="178.3" rx="9" ry="5.8"/><text x="944.3" y="178.3">CAN_20</text></g>
<g id="b-MEX_30" class="mex"><ellipse cx="967.7" cy="178.3" rx="9" ry="5.8"/><text x="967.7" y="178.3">MEX_30</text></g>
<g id="b-AUS_15" class="aus"><ellipse cx="1113.3" cy="178.3" rx="9" ry="5.8"/><text x="1113.3" y="178.3">AUS_15</text></g>
<g id="b-AUS_19" class="aus"><ellipse cx="1136.7" cy="178.3" rx="9" ry="5.8"/><text x="1136.7" y="178.3">AUS_19</text></g>
<g id="b-AUS_21" class="aus"><ellipse cx="1160" cy="178.3" rx="9" ry="5.8"/><text x="1160" y="178.3">AUS_21</text></g>
<g id="b-AUS_27" class="aus"><ellipse cx="1183.3" cy="178.3" rx="9" ry="5.8"/><text x="1183.3" y="178.3">AUS_27</text></g>
<g id="b-CAN_2" class="can"><ellipse cx="932.7" cy="260" rx="9" ry="5.8"/><text x="932.7" y="260">CAN_2</text></g>
<g id="b-MEX_2" class="mex"><ellipse cx="956" cy="260" rx="9" ry="5.8"/><text x="956" y="260">MEX_2</text></g>
<g id="b-USA_34" class="usa"><ellipse cx="991" cy="260" rx="9" ry="5.8"/><text x="991" y="260">USA_34</text></g>
<g id="b-AUS_23" class="aus"><ellipse cx="1148.3" cy="260" rx="9" ry="5.8"/><text x="1148.3" y="260">AUS_23</text></g>
<g id="b-AUS_30" class="aus"><ellipse cx="1177.7" cy="260" rx="9" ry="5.8"/><text x="1177.7" y="260">AUS_30</text></g>
<g id="b-AUS_28" class="aus"><ellipse cx="1201" cy="260" rx="9" ry="5.8"/><text x="1201" y="260">AUS_28</text></g>
<g id="b-AUS_x" class="aus"><ellipse cx="1224.3" cy="260" rx="9" ry="5.8"/><text class="edge" x="1224.6" y="260">AUS_</text></g>
<g id="b-CHN_3" class="chn"><ellipse cx="652.7" cy="341.7" rx="9" ry="5.8"/><text x="652.7" y="341.7">CHN_3</text></g>
<g id="b-CHN_7" class="chn"><ellipse cx="676" cy="341.7" rx="9" ry="5.8"/><text x="676" y="341.7">CHN_7</text></g>
<g id="b-CHN_10" class="chn"><ellipse cx="746" cy="341.7" rx="9" ry="5.8"/><text x="746" y="341.7">CHN_10</text></g>
<g id="b-KOR_2" class="kor"><ellipse cx="921" cy="341.7" rx="9" ry="5.8"/><text x="921" y="341.7">KOR_2</text></g>
<g id="b-USA_6" class="usa"><ellipse cx="944.3" cy="341.7" rx="9" ry="5.8"/><text x="944.3" y="341.7">USA_6</text></g>
<g id="b-USA_26" class="usa"><ellipse cx="967.7" cy="341.7" rx="9" ry="5.8"/><text x="967.7" y="341.7">USA_26</text></g>
<g id="b-USA_27" class="usa"><ellipse cx="991" cy="341.7" rx="9" ry="5.8"/><text x="991" y="341.7">USA_27</text></g>
<g id="b-JPN_9" class="jpn"><ellipse cx="1026" cy="341.7" rx="9" ry="5.8"/><text x="1026" y="341.7">JPN_9</text></g>
<g id="b-JPN_1" class="jpn"><ellipse cx="1096" cy="341.7" rx="9" ry="5.8"/><text x="1096" y="341.7">JPN_1</text></g>
<g id="b-JPN_3" class="jpn"><ellipse cx="1119.3" cy="341.7" rx="9" ry="5.8"/><text x="1119.3" y="341.7">JPN_3</text></g>
<g id="b-JPN_21" class="jpn"><ellipse cx="1142.7" cy="341.7" rx="9" ry="5.8"/><text x="1142.7" y="341.7">JPN_21</text></g>
<g id="b-JPN_2" class="jpn"><ellipse cx="1166" cy="341.7" rx="9" ry="5.8"/><text x="1166" y="341.7">JPN_2</text></g>
<g id="b-AUS_2" class="aus"><ellipse cx="1189.3" cy="341.7" rx="9" ry="5.8"/><text x="1189.3" y="341.7">AUS_2</text></g>
<g id="b-CHN_1" class="chn"><ellipse cx="652.7" cy="423.3" rx="9" ry="5.8"/><text x="652.7" y="423.3">CHN_1</text></g>
<g id="b-CHN_30" class="chn"><ellipse cx="676" cy="423.3" rx="9" ry="5.8"/><text x="676" y="423.3">CHN_30</text></g>
<g id="b-CHN_9" class="chn"><ellipse cx="699.3" cy="423.3" rx="9" ry="5.8"/><text x="699.3" y="423.3">CHN_9</text></g>
<g id="b-CHN_14" class="chn"><ellipse cx="722.7" cy="423.3" rx="9" ry="5.8"/><text x="722.7" y="423.3">CHN_14</text></g>
<g id="b-CHN_15" class="chn"><ellipse cx="746" cy="423.3" rx="9" ry="5.8"/><text x="746" y="423.3">CHN_15</text></g>
<g id="b-CHN_27" class="chn"><ellipse cx="769.3" cy="423.3" rx="9" ry="5.8"/><text x="769.3" y="423.3">CHN_27</text></g>
<g id="b-CHN_29" class="chn"><ellipse cx="792.7" cy="423.3" rx="9" ry="5.8"/><text x="792.7" y="423.3">CHN_29</text></g>
<g id="b-KOR_9" class="kor"><ellipse cx="816" cy="423.3" rx="9" ry="5.8"/><text x="816" y="423.3">KOR_9</text></g>
<g id="b-IDN_2" class="idn"><ellipse cx="862.7" cy="423.3" rx="9" ry="5.8"/><text x="862.7" y="423.3">IDN_2</text></g>
<g id="b-KOR_10" class="kor"><ellipse cx="886" cy="423.3" rx="9" ry="5.8"/><text x="886" y="423.3">KOR_10</text></g>
<g id="b-KOR_13" class="kor"><ellipse cx="909.3" cy="423.3" rx="9" ry="5.8"/><text x="909.3" y="423.3">KOR_13</text></g>
<g id="b-KOR_11" class="kor"><ellipse cx="932.7" cy="423.3" rx="9" ry="5.8"/><text x="932.7" y="423.3">KOR_11</text></g>
<g id="b-USA_25" class="usa"><ellipse cx="956" cy="423.3" rx="9" ry="5.8"/><text x="956" y="423.3">USA_25</text></g>
<g id="b-USA_2" class="usa"><ellipse cx="979.3" cy="423.3" rx="9" ry="5.8"/><text x="979.3" y="423.3">USA_2</text></g>
<g id="b-JPN_7" class="jpn"><ellipse cx="1002.7" cy="423.3" rx="9" ry="5.8"/><text x="1002.7" y="423.3">JPN_7</text></g>
<g id="b-JPN_10" class="jpn"><ellipse cx="1026" cy="423.3" rx="9" ry="5.8"/><text x="1026" y="423.3">JPN_10</text></g>
<g id="b-JPN_13" class="jpn"><ellipse cx="1049.3" cy="423.3" rx="9" ry="5.8"/><text x="1049.3" y="423.3">JPN_13</text></g>
<g id="b-JPN_15" class="jpn"><ellipse cx="1072.7" cy="423.3" rx="9" ry="5.8"/><text x="1072.7" y="423.3">JPN_15</text></g>
<g id="b-JPN_11" class="jpn"><ellipse cx="1096" cy="423.3" rx="9" ry="5.8"/><text x="1096" y="423.3">JPN_11</text></g>
<g id="b-JPN_22" class="jpn"><ellipse cx="1119.3" cy="423.3" rx="9" ry="5.8"/><text x="1119.3" y="423.3">JPN_22</text></g>
<g id="b-JPN_6" class="jpn"><ellipse cx="1166" cy="423.3" rx="9" ry="5.8"/><text x="1166" y="423.3">JPN_6</text></g>
<g id="b-CHN_20" class="chn"><ellipse cx="676" cy="505" rx="9" ry="5.8"/><text x="676" y="505">CHN_20</text></g>
<g id="b-CHN_2" class="chn"><ellipse cx="699.3" cy="505" rx="9" ry="5.8"/><text x="699.3" y="505">CHN_2</text></g>
<g id="b-CHN_13" class="chn"><ellipse cx="722.7" cy="505" rx="9" ry="5.8"/><text x="722.7" y="505">CHN_13</text></g>
<g id="b-CHN_23" class="chn"><ellipse cx="746" cy="505" rx="9" ry="5.8"/><text x="746" y="505">CHN_23</text></g>
<g id="b-CHN_17" class="chn"><ellipse cx="769.3" cy="505" rx="9" ry="5.8"/><text x="769.3" y="505">CHN_17</text></g>
<g id="b-CHN_28" class="chn"><ellipse cx="792.7" cy="505" rx="9" ry="5.8"/><text x="792.7" y="505">CHN_28</text></g>
<g id="b-KOR_1" class="kor"><ellipse cx="816" cy="505" rx="9" ry="5.8"/><text x="816" y="505">KOR_1</text></g>
<g id="b-KOR_3" class="kor"><ellipse cx="839.3" cy="505" rx="9" ry="5.8"/><text x="839.3" y="505">KOR_3</text></g>
<g id="b-KOR_8" class="kor"><ellipse cx="862.7" cy="505" rx="9" ry="5.8"/><text x="862.7" y="505">KOR_8</text></g>
<g id="b-KOR_15" class="kor"><ellipse cx="886" cy="505" rx="9" ry="5.8"/><text x="886" y="505">KOR_15</text></g>
<g id="b-KOR_26" class="kor"><ellipse cx="909.3" cy="505" rx="9" ry="5.8"/><text x="909.3" y="505">KOR_26</text></g>
<g id="b-KOR_18" class="kor"><ellipse cx="932.7" cy="505" rx="9" ry="5.8"/><text x="932.7" y="505">KOR_18</text></g>
<g id="b-USA_17" class="usa"><ellipse cx="956" cy="505" rx="9" ry="5.8"/><text x="956" y="505">USA_17</text></g>
<g id="b-USA_29" class="usa"><ellipse cx="1026" cy="505" rx="9" ry="5.8"/><text x="1026" y="505">USA_29</text></g>
<g id="b-JPN_34" class="jpn"><ellipse cx="1049.3" cy="505" rx="9" ry="5.8"/><text x="1049.3" y="505">JPN_34</text></g>
<g id="b-JPN_19" class="jpn"><ellipse cx="1072.7" cy="505" rx="9" ry="5.8"/><text x="1072.7" y="505">JPN_19</text></g>
<g id="b-JPN_18" class="jpn"><ellipse cx="1096" cy="505" rx="9" ry="5.8"/><text x="1096" y="505">JPN_18</text></g>
<g id="b-JPN_27" class="jpn"><ellipse cx="1119.3" cy="505" rx="9" ry="5.8"/><text x="1119.3" y="505">JPN_27</text></g>
<g id="b-JPN_29" class="jpn"><ellipse cx="1142.7" cy="505" rx="9" ry="5.8"/><text x="1142.7" y="505">JPN_29</text></g>
<g id="b-JPN_23" class="jpn"><ellipse cx="1166" cy="505" rx="9" ry="5.8"/><text x="1166" y="505">JPN_23</text></g>
<g id="b-CHN_12" class="chn"><ellipse cx="746" cy="586.7" rx="9" ry="5.8"/><text x="746" y="586.7">CHN_12</text></g>
<g id="b-KOR_17" class="kor"><ellipse cx="792.7" cy="586.7" rx="9" ry="5.8"/><text x="792.7" y="586.7">KOR_17</text></g>
<g id="b-KOR_22" class="kor"><ellipse cx="839.3" cy="586.7" rx="9" ry="5.8"/><text x="839.3" y="586.7">KOR_22</text></g>
<g id="b-KOR_21" class="kor"><ellipse cx="862.7" cy="586.7" rx="9" ry="5.8"/><text x="862.7" y="586.7">KOR_21</text></g>
<g id="b-KOR_23" class="kor"><ellipse cx="886" cy="586.7" rx="9" ry="5.8"/><text x="886" y="586.7">KOR_23</text></g>
<g id="b-KOR_29" class="kor"><ellipse cx="909.3" cy="586.7" rx="9" ry="5.8"/><text x="909.3" y="586.7">KOR_29</text></g>
<g id="b-KOR_27" class="kor"><ellipse cx="932.7" cy="586.7" rx="9" ry="5.8"/><text x="932.7" y="586.7">KOR_27</text></g>
<g id="b-USA_12" class="usa"><ellipse cx="956" cy="586.7" rx="9" ry="5.8"/><text x="956" y="586.7">USA_12</text></g>
<g id="b-USA_20" class="usa"><ellipse cx="979.3" cy="586.7" rx="9" ry="5.8"/><text x="979.3" y="586.7">USA_20</text></g>
<g id="b-USA_28" class="usa"><ellipse cx="1002.7" cy="586.7" rx="9" ry="5.8"/><text x="1002.7" y="586.7">USA_28</text></g>
<g id="b-USA_30" class="usa"><ellipse cx="1026" cy="586.7" rx="9" ry="5.8"/><text x="1026" y="586.7">USA_30</text></g>
<g id="b-JPN_30" class="jpn"><ellipse cx="1061" cy="586.7" rx="9" ry="5.8"/><text x="1061" y="586.7">JPN_30</text></g>
<g id="b-JPN_17" class="jpn"><ellipse cx="1096" cy="586.7" rx="9" ry="5.8"/><text x="1096" y="586.7">JPN_17</text></g>
<g id="b-JPN_20" class="jpn"><ellipse cx="1119.3" cy="586.7" rx="9" ry="5.8"/><text x="1119.3" y="586.7">JPN_20</text></g>
<g id="b-JPN_28" class="jpn"><ellipse cx="1142.7" cy="586.7" rx="9" ry="5.8"/><text x="1142.7" y="586.7">JPN_28</text></g>
<g id="b-JPN_12" class="jpn"><ellipse cx="1166" cy="586.7" rx="9" ry="5.8"/><text x="1166" y="586.7">JPN_12</text></g>
<g id="b-KOR_12" class="kor"><ellipse cx="792.7" cy="668.3" rx="9" ry="5.8"/><text x="792.7" y="668.3">KOR_12</text></g>
<g id="b-KOR_30" class="kor"><ellipse cx="862.7" cy="668.3" rx="9" ry="5.8"/><text x="862.7" y="668.3">KOR_30</text></g>
<g id="b-KOR_20" class="kor"><ellipse cx="909.3" cy="668.3" rx="9" ry="5.8"/><text x="909.3" y="668.3">KOR_20</text></g>
<g id="b-KOR_28" class="kor"><ellipse cx="932.7" cy="668.3" rx="9" ry="5.8"/><text x="932.7" y="668.3">KOR_28</text></g>
<g id="b-USA_14" class="usa"><ellipse cx="979.3" cy="668.3" rx="9" ry="5.8"/><text x="979.3" y="668.3">USA_14</text></g>
<g id="b-JPN_14" class="jpn"><ellipse cx="1107.7" cy="668.3" rx="9" ry="5.8"/><text x="1107.7" y="668.3">JPN_14</text></g>
<g id="b-KOR_14" class="kor"><ellipse cx="921" cy="750" rx="9" ry="5.8"/><text x="921" y="750">KOR_14</text></g>
</g>

<!-- ================= PANEL C ================= -->
<g id="c-connectors" class="e">
<line class="v" x1="689.3" y1="850" x2="689.3" y2="931.5"/>
<line class="n" x1="689.3" y1="931.5" x2="701" y2="1012.7"/>
<line class="n" x1="711" y1="931.5" x2="701" y2="1012.7"/>
<line class="m" x1="846" y1="931.5" x2="847.7" y2="1012.7"/>
<line class="m" x1="869.3" y1="931.5" x2="869.3" y2="1012.7"/>
<line class="t" x1="892.7" y1="931.5" x2="892.7" y2="1012.7"/>
<line class="m" x1="974.3" y1="931.5" x2="1009.3" y2="1012.7"/>
<line class="t" x1="997.7" y1="931.5" x2="1009.3" y2="1012.7"/>
<line class="k" x1="1021" y1="931.5" x2="1009.3" y2="1012.7"/>
<line class="t" x1="1044.3" y1="931.5" x2="1044.3" y2="1012.7"/>
<line class="t" x1="1067.7" y1="931.5" x2="1067.7" y2="1012.7"/>
<line class="n" x1="677.7" y1="1012.7" x2="706" y2="1094.2"/>
<line class="n" x1="701" y1="1012.7" x2="706" y2="1094.2"/>
<line class="n" x1="724.3" y1="1012.7" x2="706" y2="1094.2"/>
<line class="m" x1="747.7" y1="1012.7" x2="741" y2="1094.2"/>
<line class="m" x1="824.3" y1="1012.7" x2="857.7" y2="1094.2"/>
<line class="n" x1="847.7" y1="1012.7" x2="857.7" y2="1094.2"/>
<line class="m" x1="869.3" y1="1012.7" x2="857.7" y2="1094.2"/>
<line class="n" x1="892.7" y1="1012.7" x2="857.7" y2="1094.2"/>
<line class="n" x1="1009.3" y1="1012.7" x2="1021" y2="1094.2"/>
<line class="n" x1="1044.3" y1="1012.7" x2="1044.3" y2="1094.2"/>
<line class="t" x1="1067.7" y1="1012.7" x2="1067.7" y2="1094.2"/>
<line class="n" x1="706" y1="1094.2" x2="706" y2="1175.7"/>
<line class="m" x1="741" y1="1094.2" x2="729.3" y2="1175.7"/>
<line class="r" x1="857.7" y1="1094.2" x2="857.7" y2="1175.7"/>
<line class="m" x1="881" y1="1094.2" x2="881" y2="1175.7"/>
<line class="t" x1="974.3" y1="1094.2" x2="974.3" y2="1175.7"/>
<line class="n" x1="1021" y1="1094.2" x2="1044.3" y2="1175.7"/>
<line class="k" x1="1044.3" y1="1094.2" x2="1044.3" y2="1175.7"/>
<line class="t" x1="1067.7" y1="1094.2" x2="1067.7" y2="1175.7"/>
<line class="m" x1="1091" y1="1094.2" x2="1091" y2="1175.7"/>
<line class="v" x1="659.3" y1="1175.7" x2="694.3" y2="1257.3"/>
<line class="k" x1="682.7" y1="1175.7" x2="694.3" y2="1257.3"/>
<line class="t" x1="706" y1="1175.7" x2="694.3" y2="1257.3"/>
<line class="t" x1="729.3" y1="1175.7" x2="729.3" y2="1257.3"/>
<line class="m" x1="752.7" y1="1175.7" x2="752.7" y2="1257.3"/>
<line class="m" x1="776" y1="1175.7" x2="776" y2="1257.3"/>
<line class="t" x1="799.3" y1="1175.7" x2="776" y2="1257.3"/>
<line class="n" x1="822.7" y1="1175.7" x2="822.7" y2="1257.3"/>
<line class="t" x1="857.7" y1="1175.7" x2="869.3" y2="1257.3"/>
<line class="m" x1="881" y1="1175.7" x2="869.3" y2="1257.3"/>
<line class="t" x1="916" y1="1175.7" x2="916" y2="1257.3"/>
<line class="t" x1="939.3" y1="1175.7" x2="939.3" y2="1257.3"/>
<line class="n" x1="974.3" y1="1175.7" x2="986" y2="1257.3"/>
<line class="t" x1="997.7" y1="1175.7" x2="1009.3" y2="1257.3"/>
<line class="m" x1="1021" y1="1175.7" x2="1009.3" y2="1257.3"/>
<line class="m" x1="1044.3" y1="1175.7" x2="1091" y2="1257.3"/>
<line class="t" x1="1067.7" y1="1175.7" x2="1091" y2="1257.3"/>
<line class="m" x1="1091" y1="1175.7" x2="1091" y2="1257.3"/>
<line class="t" x1="1114.3" y1="1175.7" x2="1091" y2="1257.3"/>
<line class="rk" x1="1137.7" y1="1175.7" x2="1114.3" y2="1257.3"/>
<line class="m" x1="1161" y1="1175.7" x2="1172.7" y2="1257.3"/>
<line class="t" x1="1184.3" y1="1175.7" x2="1172.7" y2="1257.3"/>
<line class="m" x1="1207.7" y1="1175.7" x2="1172.7" y2="1257.3"/>
<line class="n" x1="694.3" y1="1257.3" x2="741" y2="1339"/>
<line class="t" x1="729.3" y1="1257.3" x2="741" y2="1339"/>
<line class="k" x1="752.7" y1="1257.3" x2="741" y2="1339"/>
<line class="t" x1="776" y1="1257.3" x2="822.7" y2="1339"/>
<line class="m" x1="799.3" y1="1257.3" x2="822.7" y2="1339"/>
<line class="n" x1="822.7" y1="1257.3" x2="822.7" y2="1339"/>
<line class="v" x1="846" y1="1257.3" x2="822.7" y2="1339"/>
<line class="m d" x1="869.3" y1="1257.3" x2="927.7" y2="1339"/>
<line class="n" x1="892.7" y1="1257.3" x2="927.7" y2="1339"/>
<line class="m" x1="916" y1="1257.3" x2="927.7" y2="1339"/>
<line class="n" x1="939.3" y1="1257.3" x2="927.7" y2="1339"/>
<line class="k" x1="962.7" y1="1257.3" x2="927.7" y2="1339"/>
<line class="n d" x1="986" y1="1257.3" x2="927.7" y2="1339"/>
<line class="n d" x1="1009.3" y1="1257.3" x2="927.7" y2="1339"/>
<line class="r" x1="1091" y1="1257.3" x2="1114.3" y2="1339"/>
<line class="t" x1="1114.3" y1="1257.3" x2="1114.3" y2="1339"/>
<line class="t" x1="1137.7" y1="1257.3" x2="1114.3" y2="1339"/>
<line class="rk d" x1="1172.7" y1="1257.3" x2="1114.3" y2="1339"/>
<line class="k d" x1="741" y1="1339" x2="876" y2="1420.7"/>
<line class="r" x1="822.7" y1="1339" x2="876" y2="1420.7"/>
<line class="r" x1="927.7" y1="1339" x2="876" y2="1420.7"/>
<line class="m d" x1="1114.3" y1="1339" x2="876" y2="1420.7"/>
</g>
<g id="c-nodes" class="nd">
<g id="c-KOR_9" class="kor"><ellipse cx="689.3" cy="850" rx="9" ry="5.8"/><text x="689.3" y="850">KOR_9</text></g>
<g id="c-KOR_10" class="kor"><ellipse cx="689.3" cy="931.5" rx="9" ry="5.8"/><text x="689.3" y="931.5">KOR_10</text></g>
<g id="c-KOR_13" class="kor"><ellipse cx="711" cy="931.5" rx="9" ry="5.8"/><text x="711" y="931.5">KOR_13</text></g>
<g id="c-RUS_23" class="rus"><ellipse cx="846" cy="931.5" rx="9" ry="5.8"/><text x="846" y="931.5">RUS_23</text></g>
<g id="c-RUS_21" class="rus"><ellipse cx="869.3" cy="931.5" rx="9" ry="5.8"/><text x="869.3" y="931.5">RUS_21</text></g>
<g id="c-RUS_29" class="rus"><ellipse cx="892.7" cy="931.5" rx="9" ry="5.8"/><text x="892.7" y="931.5">RUS_29</text></g>
<g id="c-JPN_1" class="jpn"><ellipse cx="974.3" cy="931.5" rx="9" ry="5.8"/><text x="974.3" y="931.5">JPN_1</text></g>
<g id="c-JPN_21" class="jpn"><ellipse cx="997.7" cy="931.5" rx="9" ry="5.8"/><text x="997.7" y="931.5">JPN_21</text></g>
<g id="c-JPN_3" class="jpn"><ellipse cx="1021" cy="931.5" rx="9" ry="5.8"/><text x="1021" y="931.5">JPN_3</text></g>
<g id="c-JPN_9" class="jpn"><ellipse cx="1044.3" cy="931.5" rx="9" ry="5.8"/><text x="1044.3" y="931.5">JPN_9</text></g>
<g id="c-JPN_6" class="jpn"><ellipse cx="1067.7" cy="931.5" rx="9" ry="5.8"/><text x="1067.7" y="931.5">JPN_6</text></g>
<g id="c-KOR_8" class="kor"><ellipse cx="677.7" cy="1012.7" rx="9" ry="5.8"/><text x="677.7" y="1012.7">KOR_8</text></g>
<g id="c-KOR_15" class="kor"><ellipse cx="701" cy="1012.7" rx="9" ry="5.8"/><text x="701" y="1012.7">KOR_15</text></g>
<g id="c-KOR_26" class="kor"><ellipse cx="724.3" cy="1012.7" rx="9" ry="5.8"/><text x="724.3" y="1012.7">KOR_26</text></g>
<g id="c-KOR_2" class="kor"><ellipse cx="747.7" cy="1012.7" rx="9" ry="5.8"/><text x="747.7" y="1012.7">KOR_2</text></g>
<g id="c-RUS_20" class="rus"><ellipse cx="824.3" cy="1012.7" rx="9" ry="5.8"/><text x="824.3" y="1012.7">RUS_20</text></g>
<g id="c-RUS_8" class="rus"><ellipse cx="847.7" cy="1012.7" rx="9" ry="5.8"/><text x="847.7" y="1012.7">RUS_8</text></g>
<g id="c-RUS_17" class="rus"><ellipse cx="869.3" cy="1012.7" rx="9" ry="5.8"/><text x="869.3" y="1012.7">RUS_17</text></g>
<g id="c-RUS_30" class="rus"><ellipse cx="892.7" cy="1012.7" rx="9" ry="5.8"/><text x="892.7" y="1012.7">RUS_30</text></g>
<g id="c-JPN_22" class="jpn"><ellipse cx="1009.3" cy="1012.7" rx="9" ry="5.8"/><text x="1009.3" y="1012.7">JPN_22</text></g>
<g id="c-JPN_7" class="jpn"><ellipse cx="1044.3" cy="1012.7" rx="9" ry="5.8"/><text x="1044.3" y="1012.7">JPN_7</text></g>
<g id="c-JPN_23" class="jpn"><ellipse cx="1067.7" cy="1012.7" rx="9" ry="5.8"/><text x="1067.7" y="1012.7">JPN_23</text></g>
<g id="c-KOR_23" class="kor"><ellipse cx="706" cy="1094.2" rx="9" ry="5.8"/><text x="706" y="1094.2">KOR_23</text></g>
<g id="c-KOR_11" class="kor"><ellipse cx="741" cy="1094.2" rx="9" ry="5.8"/><text x="741" y="1094.2">KOR_11</text></g>
<g id="c-RUS_2" class="rus"><ellipse cx="857.7" cy="1094.2" rx="9" ry="5.8"/><text x="857.7" y="1094.2">RUS_2</text></g>
<g id="c-CHN_3" class="chn"><ellipse cx="881" cy="1094.2" rx="9" ry="5.8"/><text x="881" y="1094.2">CHN_3</text></g>
<g id="c-CHN_15" class="chn"><ellipse cx="974.3" cy="1094.2" rx="9" ry="5.8"/><text x="974.3" y="1094.2">CHN_15</text></g>
<g id="c-JPN_27" class="jpn"><ellipse cx="1021" cy="1094.2" rx="9" ry="5.8"/><text x="1021" y="1094.2">JPN_27</text></g>
<g id="c-JPN_34" class="jpn"><ellipse cx="1044.3" cy="1094.2" rx="9" ry="5.8"/><text x="1044.3" y="1094.2">JPN_34</text></g>
<g id="c-JPN_18" class="jpn"><ellipse cx="1067.7" cy="1094.2" rx="9" ry="5.8"/><text x="1067.7" y="1094.2">JPN_18</text></g>
<g id="c-JPN_29" class="jpn"><ellipse cx="1091" cy="1094.2" rx="9" ry="5.8"/><text x="1091" y="1094.2">JPN_29</text></g>
<g id="c-KOR_1" class="kor"><ellipse cx="659.3" cy="1175.7" rx="9" ry="5.8"/><text x="659.3" y="1175.7">KOR_1</text></g>
<g id="c-KOR_3" class="kor"><ellipse cx="682.7" cy="1175.7" rx="9" ry="5.8"/><text x="682.7" y="1175.7">KOR_3</text></g>
<g id="c-KOR_20" class="kor"><ellipse cx="706" cy="1175.7" rx="9" ry="5.8"/><text x="706" y="1175.7">KOR_20</text></g>
<g id="c-KOR_16" class="kor"><ellipse cx="729.3" cy="1175.7" rx="9" ry="5.8"/><text x="729.3" y="1175.7">KOR_16</text></g>
<g id="c-KOR_27" class="kor"><ellipse cx="752.7" cy="1175.7" rx="9" ry="5.8"/><text x="752.7" y="1175.7">KOR_27</text></g>
<g id="c-USA_2" class="usa"><ellipse cx="776" cy="1175.7" rx="9" ry="5.8"/><text x="776" y="1175.7">USA_2</text></g>
<g id="c-USA_17" class="usa"><ellipse cx="799.3" cy="1175.7" rx="9" ry="5.8"/><text x="799.3" y="1175.7">USA_17</text></g>
<g id="c-USA_29" class="usa"><ellipse cx="822.7" cy="1175.7" rx="9" ry="5.8"/><text x="822.7" y="1175.7">USA_29</text></g>
<g id="c-CHN_8" class="chn"><ellipse cx="857.7" cy="1175.7" rx="9" ry="5.8"/><text x="857.7" y="1175.7">CHN_8</text></g>
<g id="c-CHN_1" class="chn"><ellipse cx="881" cy="1175.7" rx="9" ry="5.8"/><text x="881" y="1175.7">CHN_1</text></g>
<g id="c-CHN_13" class="chn"><ellipse cx="916" cy="1175.7" rx="9" ry="5.8"/><text x="916" y="1175.7">CHN_13</text></g>
<g id="c-CHN_7" class="chn"><ellipse cx="939.3" cy="1175.7" rx="9" ry="5.8"/><text x="939.3" y="1175.7">CHN_7</text></g>
<g id="c-CHN_23" class="chn"><ellipse cx="974.3" cy="1175.7" rx="9" ry="5.8"/><text x="974.3" y="1175.7">CHN_23</text></g>
<g id="c-CHN_27" class="chn"><ellipse cx="997.7" cy="1175.7" rx="9" ry="5.8"/><text x="997.7" y="1175.7">CHN_27</text></g>
<g id="c-CHN_29" class="chn"><ellipse cx="1021" cy="1175.7" rx="9" ry="5.8"/><text x="1021" y="1175.7">CHN_29</text></g>
<g id="c-JPN_30" class="jpn"><ellipse cx="1044.3" cy="1175.7" rx="9" ry="5.8"/><text x="1044.3" y="1175.7">JPN_30</text></g>
<g id="c-JPN_17" class="jpn"><ellipse cx="1067.7" cy="1175.7" rx="9" ry="5.8"/><text x="1067.7" y="1175.7">JPN_17</text></g>
<g id="c-JPN_20" class="jpn"><ellipse cx="1091" cy="1175.7" rx="9" ry="5.8"/><text x="1091" y="1175.7">JPN_20</text></g>
<g id="c-JPN_28" class="jpn"><ellipse cx="1114.3" cy="1175.7" rx="9" ry="5.8"/><text x="1114.3" y="1175.7">JPN_28</text></g>
<g id="c-IDN_2" class="idn"><ellipse cx="1137.7" cy="1175.7" rx="9" ry="5.8"/><text x="1137.7" y="1175.7">IDN_2</text></g>
<g id="c-AUS_28" class="aus"><ellipse cx="1161" cy="1175.7" rx="9" ry="5.8"/><text x="1161" y="1175.7">AUS_28</text></g>
<g id="c-AUS_29" class="aus"><ellipse cx="1184.3" cy="1175.7" rx="9" ry="5.8"/><text x="1184.3" y="1175.7">AUS_29</text></g>
<g id="c-AUS_30" class="aus"><ellipse cx="1207.7" cy="1175.7" rx="9" ry="5.8"/><text x="1207.7" y="1175.7">AUS_30</text></g>
<g id="c-KOR_22" class="kor"><ellipse cx="694.3" cy="1257.3" rx="9" ry="5.8"/><text x="694.3" y="1257.3">KOR_22</text></g>
<g id="c-KOR_29" class="kor"><ellipse cx="729.3" cy="1257.3" rx="9" ry="5.8"/><text x="729.3" y="1257.3">KOR_29</text></g>
<g id="c-KOR_21" class="kor"><ellipse cx="752.7" cy="1257.3" rx="9" ry="5.8"/><text x="752.7" y="1257.3">KOR_21</text></g>
<g id="c-USA_12" class="usa"><ellipse cx="776" cy="1257.3" rx="9" ry="5.8"/><text x="776" y="1257.3">USA_12</text></g>
<g id="c-USA_20" class="usa"><ellipse cx="799.3" cy="1257.3" rx="9" ry="5.8"/><text x="799.3" y="1257.3">USA_20</text></g>
<g id="c-USA_28" class="usa"><ellipse cx="822.7" cy="1257.3" rx="9" ry="5.8"/><text x="822.7" y="1257.3">USA_28</text></g>
<g id="c-USA_30" class="usa"><ellipse cx="846" cy="1257.3" rx="9" ry="5.8"/><text x="846" y="1257.3">USA_30</text></g>
<g id="c-CHN_9" class="chn"><ellipse cx="869.3" cy="1257.3" rx="9" ry="5.8"/><text x="869.3" y="1257.3">CHN_9</text></g>
<g id="c-CHN_17" class="chn"><ellipse cx="892.7" cy="1257.3" rx="9" ry="5.8"/><text x="892.7" y="1257.3">CHN_17</text></g>
<g id="c-CHN_2" class="chn"><ellipse cx="916" cy="1257.3" rx="9" ry="5.8"/><text x="916" y="1257.3">CHN_2</text></g>
<g id="c-CHN_30" class="chn"><ellipse cx="939.3" cy="1257.3" rx="9" ry="5.8"/><text x="939.3" y="1257.3">CHN_30</text></g>
<g id="c-CHN_12" class="chn"><ellipse cx="962.7" cy="1257.3" rx="9" ry="5.8"/><text x="962.7" y="1257.3">CHN_12</text></g>
<g id="c-CHN_20" class="chn"><ellipse cx="986" cy="1257.3" rx="9" ry="5.8"/><text x="986" y="1257.3">CHN_20</text></g>
<g id="c-CHN_28" class="chn"><ellipse cx="1009.3" cy="1257.3" rx="9" ry="5.8"/><text x="1009.3" y="1257.3">CHN_28</text></g>
<g id="c-JPN_12" class="jpn"><ellipse cx="1091" cy="1257.3" rx="9" ry="5.8"/><text x="1091" y="1257.3">JPN_12</text></g>
<g id="c-KOR_17" class="kor"><ellipse cx="1114.3" cy="1257.3" rx="9" ry="5.8"/><text x="1114.3" y="1257.3">KOR_17</text></g>
<g id="c-KOR_28" class="kor"><ellipse cx="1137.7" cy="1257.3" rx="9" ry="5.8"/><text x="1137.7" y="1257.3">KOR_28</text></g>
<g id="c-AUS_2" class="aus"><ellipse cx="1172.7" cy="1257.3" rx="9" ry="5.8"/><text x="1172.7" y="1257.3">AUS_2</text></g>
<g id="c-KOR_30" class="kor"><ellipse cx="741" cy="1339" rx="9" ry="5.8"/><text x="741" y="1339">KOR_30</text></g>
<g id="c-USA_14" class="usa"><ellipse cx="822.7" cy="1339" rx="9" ry="5.8"/><text x="822.7" y="1339">USA_14</text></g>
<g id="c-CHN_14" class="chn"><ellipse cx="927.7" cy="1339" rx="9" ry="5.8"/><text x="927.7" y="1339">CHN_14</text></g>
<g id="c-KOR_12" class="kor"><ellipse cx="1114.3" cy="1339" rx="9" ry="5.8"/><text x="1114.3" y="1339">KOR_12</text></g>
<g id="c-KOR_14" class="kor"><ellipse cx="876" cy="1420.7" rx="9" ry="5.8"/><text x="876" y="1420.7">KOR_14</text></g>
</g>

<g id="captions">
<text class="cap" x="374" y="1465">(a) 1995</text>
<text class="cap" x="928" y="793">(b) 2003</text>
<text class="cap" x="884" y="1462">(c) 2011</text>
</g>
</svg>
